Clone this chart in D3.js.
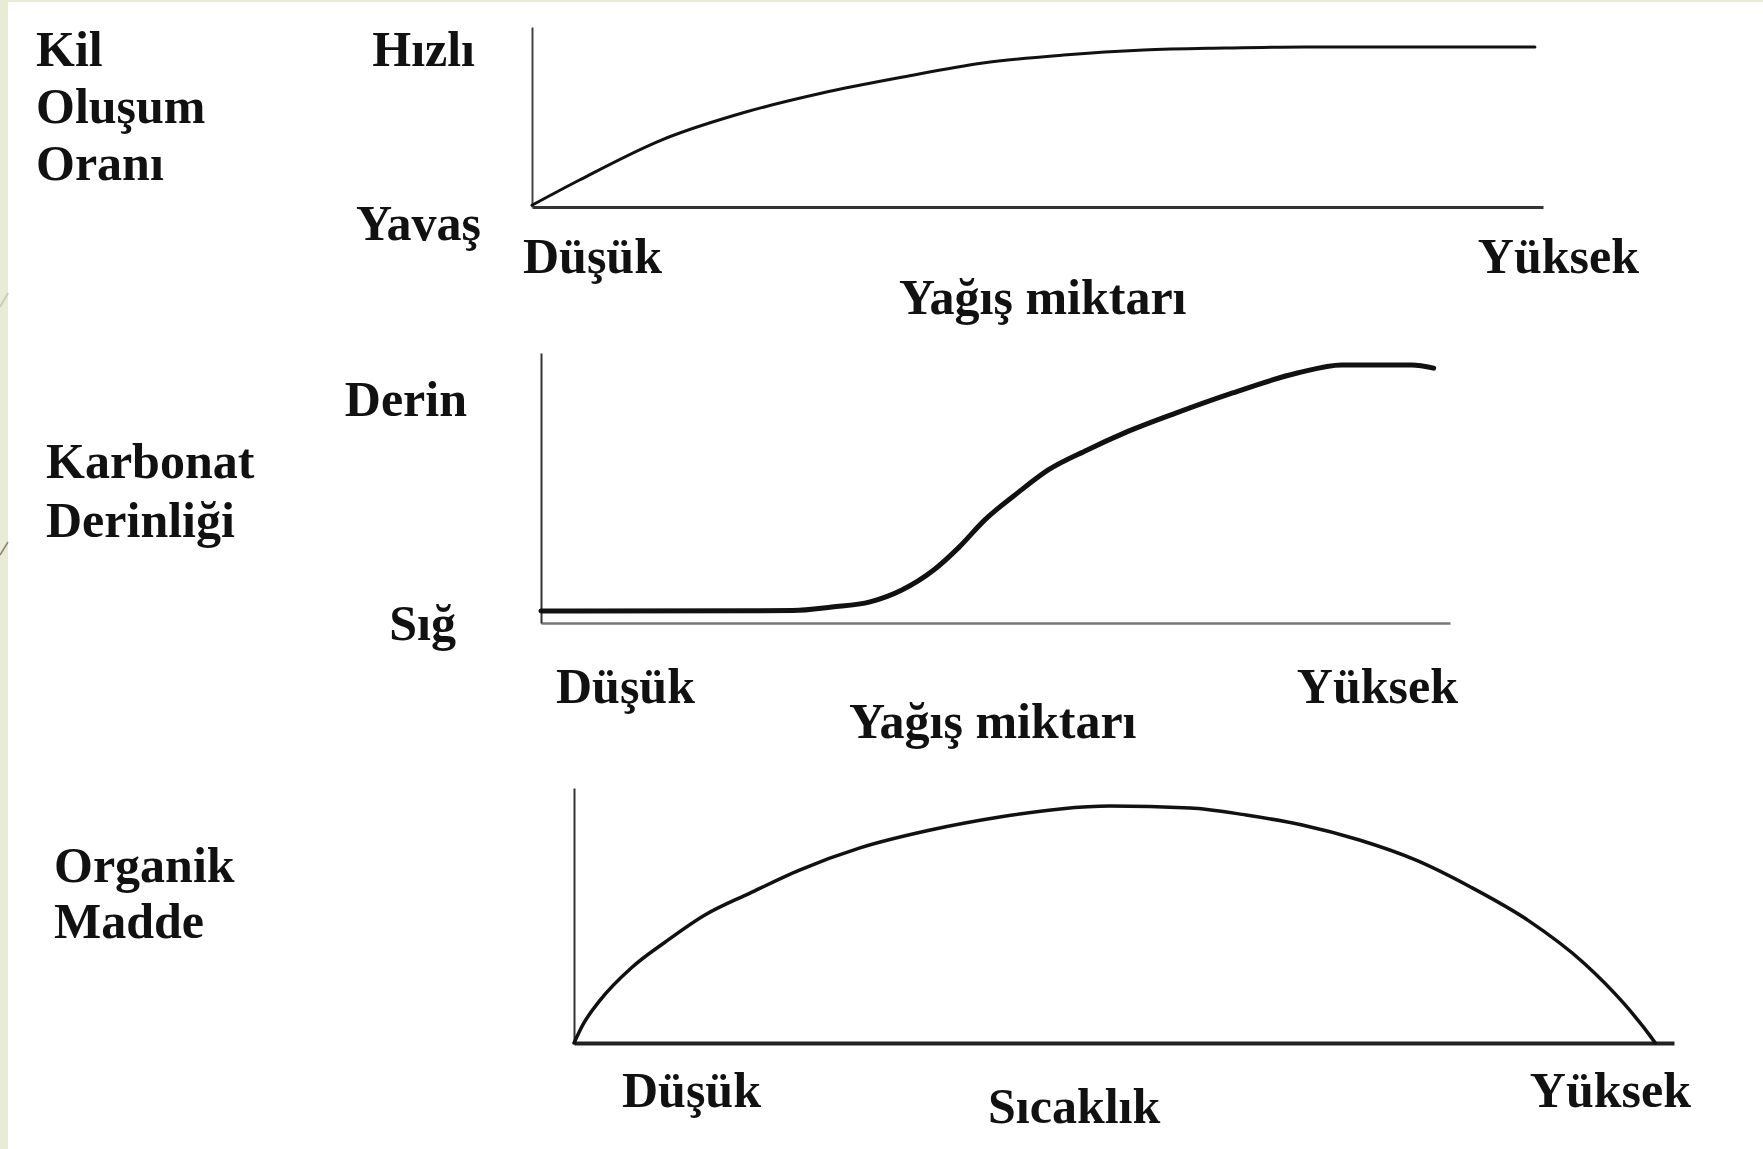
<!DOCTYPE html>
<html lang="tr">
<head>
<meta charset="utf-8">
<title>İklim ve toprak özellikleri</title>
<script src="https://cdn.jsdelivr.net/npm/d3@7"></script>
<style>
  html, body { margin: 0; padding: 0; background: #ffffff; }
  svg { display: block; }
  text { font-family: "Liberation Serif", "Times New Roman", serif; font-weight: bold; fill: #111; }
</style>
</head>
<body>
<script>
// Relative curves, 0–100 on both axes (Düşük → Yüksek)
const kilX = [0, 4.7, 12.8, 20.8, 28.7, 36.7, 44.6, 52.6, 60.5, 68.5, 76.5, 99.2];
const kilY = [1, 15, 37.2, 52.2, 63.3, 72.2, 80, 84.4, 87.2, 88.3, 88.9, 88.9];

const karbonatX = [0, 27.7, 32, 36.2, 39.7, 43.2, 46, 48.8, 52.4, 55.8, 60.1, 64.2, 69.9, 76.1, 83.2, 88.1, 95.8, 98.2];
const karbonatY = [4.4, 4.6, 5.9, 7.8, 12.2, 19.6, 28.1, 38.1, 48.1, 56.7, 64.1, 70.4, 77.8, 85.2, 92.6, 95.6, 95.6, 94.4];

const organikX = [0, 0.8, 2.4, 5.2, 8.3, 11.9, 16, 20.5, 26, 32.4, 38.7, 44.2, 48.7, 56, 61.1, 66.2, 71.4, 76.5, 81.5, 86.7, 91.8, 95.4, 97.9, 98.3];
const organikY = [0, 7.1, 16.9, 29.4, 39.6, 50.2, 58.8, 67.8, 76.5, 83.5, 88.6, 91.8, 92.9, 92.2, 89.4, 85.5, 79.6, 71.8, 61.2, 48.2, 31.4, 15.7, 2.4, 0];

// Labels
const kilTitle = ["Kil", "Oluşum", "Oranı"];
const kilYLabels = ["Hızlı", "Yavaş"];
const karbonatTitle = ["Karbonat", "Derinliği"];
const karbonatYLabels = ["Derin", "Sığ"];
const organikTitle = ["Organik", "Madde"];
const xEnds = ["Düşük", "Yüksek"];
const yagisLabel = "Yağış miktarı";
const sicaklikLabel = "Sıcaklık";

const W = 1763, H = 1149;
const svg = d3.select("body").append("svg").attr("width", W).attr("height", H);

// slide frame: pale green strips on the left and top edges
svg.append("rect").attr("x", 0).attr("y", 0).attr("width", W).attr("height", 2).attr("fill", "#e8ecd6");
svg.append("rect").attr("x", 0).attr("y", 0).attr("width", 8).attr("height", H).attr("fill", "#e8ecd6");
svg.append("line").attr("x1", 0).attr("y1", 307).attr("x2", 8).attr("y2", 293)
  .attr("stroke", "#c9cfb2").attr("stroke-width", 2);
svg.append("line").attr("x1", 0).attr("y1", 555).attr("x2", 8).attr("y2", 542)
  .attr("stroke", "#8a8470").attr("stroke-width", 1.5);

const FS = 50;

function panel(cfg) {
  const x = d3.scaleLinear().domain([0, 100]).range([cfg.x0, cfg.x1]);
  const y = d3.scaleLinear().domain([0, 100]).range([cfg.y0, cfg.y1]);
  const g = svg.append("g");

  // axes: bare domain lines, no ticks
  const xa = g.append("g").attr("transform", `translate(0,${cfg.y0})`)
    .call(d3.axisBottom(x).ticks(0).tickSizeOuter(0));
  xa.select(".domain").attr("stroke", cfg.xAxisColor).attr("stroke-width", cfg.xAxisWidth);
  const ya = g.append("g").attr("transform", `translate(${cfg.x0},0)`)
    .call(d3.axisLeft(y).ticks(0).tickSizeOuter(0));
  ya.select(".domain").attr("stroke", cfg.yAxisColor).attr("stroke-width", cfg.yAxisWidth);

  const pts = cfg.xs.map((v, i) => [v, cfg.ys[i]]);
  g.append("path")
    .datum(pts)
    .attr("fill", "none")
    .attr("stroke", "#111")
    .attr("stroke-width", cfg.curveWidth)
    .attr("stroke-linejoin", "round")
    .attr("stroke-linecap", "round")
    .attr("d", d3.line().x(d => x(d[0])).y(d => y(d[1])).curve(d3.curveMonotoneX));

  const txt = (s, px, py, anchor) => g.append("text")
    .attr("x", px).attr("y", py).attr("font-size", FS)
    .attr("text-anchor", anchor || "start").text(s);

  cfg.title.forEach((s, i) => txt(s, cfg.titleX, cfg.titleY + i * cfg.titleStep));
  if (cfg.yLabels) {
    txt(cfg.yLabels[0], cfg.yTopX, cfg.yTopY, "end");
    txt(cfg.yLabels[1], cfg.yBotX, cfg.yBotY, "end");
  }
  txt(xEnds[0], cfg.lowX, cfg.endsY);
  txt(xEnds[1], cfg.highX, cfg.endsY, "end");
  txt(cfg.xLabel, cfg.xLabelX, cfg.xLabelY);
}

panel({
  x0: 532, x1: 1543, y0: 207, y1: 27,
  xs: kilX, ys: kilY, curveWidth: 3,
  xAxisColor: "#333", xAxisWidth: 3, yAxisColor: "#444", yAxisWidth: 2,
  title: kilTitle, titleX: 36, titleY: 66, titleStep: 57,
  yLabels: kilYLabels, yTopX: 475, yTopY: 66, yBotX: 481, yBotY: 240,
  lowX: 523, highX: 1639, endsY: 273,
  xLabel: yagisLabel, xLabelX: 899, xLabelY: 314
});

panel({
  x0: 541, x1: 1450, y0: 623, y1: 353,
  xs: karbonatX, ys: karbonatY, curveWidth: 5,
  xAxisColor: "#777", xAxisWidth: 2.5, yAxisColor: "#333", yAxisWidth: 2,
  title: karbonatTitle, titleX: 46, titleY: 478, titleStep: 59,
  yLabels: karbonatYLabels, yTopX: 467, yTopY: 416, yBotX: 456, yBotY: 640,
  lowX: 556, highX: 1458, endsY: 703,
  xLabel: yagisLabel, xLabelX: 849, xLabelY: 738
});

panel({
  x0: 574, x1: 1674, y0: 1043, y1: 788,
  xs: organikX, ys: organikY, curveWidth: 3.5,
  xAxisColor: "#222", xAxisWidth: 4, yAxisColor: "#333", yAxisWidth: 2,
  title: organikTitle, titleX: 54, titleY: 882, titleStep: 56,
  yLabels: null,
  lowX: 622, highX: 1691, endsY: 1107,
  xLabel: sicaklikLabel, xLabelX: 988, xLabelY: 1123
});
</script>
</body>
</html>
